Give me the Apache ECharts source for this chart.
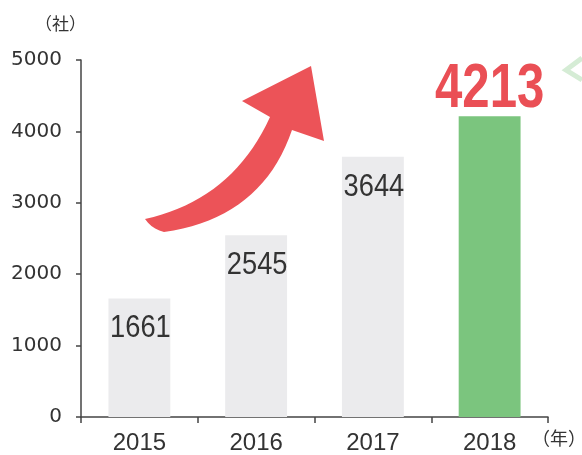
<!DOCTYPE html>
<html><head><meta charset="utf-8">
<script src="https://cdn.jsdelivr.net/npm/echarts@6/dist/echarts.min.js"></script>
<style>html,body{margin:0;padding:0;background:#fff}#c{width:582px;height:455px}</style>
</head><body><div id="c"></div>
<script>
const categories = ['2015','2016','2017','2018'];
const values = [1661, 2545, 3644, 4213];
const yTicks = [0, 1000, 2000, 3000, 4000, 5000];
const highlightIndex = 3;

function quad(p0, c, p1, n){
  const pts=[];
  for(let i=0;i<=n;i++){const t=i/n, u=1-t;
    pts.push([u*u*p0[0]+2*u*t*c[0]+t*t*p1[0], u*u*p0[1]+2*u*t*c[1]+t*t*p1[1]]);}
  return pts;
}
const arrowPts = [].concat(
  quad([145,219],[232,200],[270,117],20),
  [[242,101],[311,66],[324,141],[292,130]],
  quad([292,130],[262,218],[164,232],20).slice(1),
  quad([164,232],[152,229],[145,219],5).slice(1,-1)
);

const chart = echarts.init(document.getElementById('c'), null, {renderer:'canvas'});
chart.setOption({
  animation:false,
  backgroundColor:'#ffffff',
  grid:{left:81, right:34, top:60, bottom:35, containLabel:false},
  xAxis:{
    type:'category', data:categories,
    axisLine:{lineStyle:{color:'#444', width:1.5}},
    axisTick:{show:true, length:6, lineStyle:{color:'#444', width:1.5}},
    axisLabel:{color:'#333', fontSize:24, fontFamily:"'Liberation Sans',sans-serif", margin:14}
  },
  yAxis:{
    type:'value', min:yTicks[0], max:yTicks[yTicks.length-1], interval:1000,
    axisLine:{show:true, lineStyle:{color:'#444', width:1.5}},
    axisTick:{show:true, length:5, lineStyle:{color:'#444', width:1.5}},
    splitLine:{show:false},
    axisLabel:{color:'#333', fontSize:20, fontFamily:"'DejaVu Sans',sans-serif", margin:19,
      formatter:(v)=>String(v)}
  },
  series:[{
    type:'bar', barWidth:'53%', z:2,
    data: values.map((v,i)=>({value:v, itemStyle:{color: i===highlightIndex ? '#7bc57e' : '#ebebed'}}))
  },{
    type:'custom', silent:true, z:5,
    data: values.map((v,i)=>[i,v]),
    renderItem:(params, api)=>{
      const i = api.value(0), v = api.value(1);
      const pt = api.coord([i, v]);
      if(i===highlightIndex){
        return {type:'text', x:pt[0], y:pt[1]+5, scaleX:0.78, z2:10,
          style:{text:String(v), textAlign:'center', textVerticalAlign:'bottom',
            fontSize:63, fontWeight:'bold', fontFamily:"'Liberation Sans',sans-serif", fill:'#ea4f55'}};
      }
      return {type:'text', x:pt[0]+1, y:pt[1]+15, scaleX:0.88, z2:10,
        style:{text:String(v), textAlign:'center', textVerticalAlign:'top',
          fontSize:31, fontFamily:"'Liberation Sans',sans-serif", fill:'#333'}};
    }
  }],
  graphic:[
    {type:'text', left:35, top:15, style:{text:'（社）', fontSize:17, fill:'#333', fontFamily:"'Noto Sans CJK JP',sans-serif"}},
    {type:'text', left:532, top:429, style:{text:'（年）', fontSize:18, fill:'#333', fontFamily:"'Noto Sans CJK JP',sans-serif"}},
    {type:'polygon', shape:{points:arrowPts}, style:{fill:'#ec5358'}},
    {type:'polyline', shape:{points:[[582,58],[566,70],[582,80]]}, style:{stroke:'#d5ecd5', lineWidth:5, fill:null}}
  ]
});
</script></body></html>
